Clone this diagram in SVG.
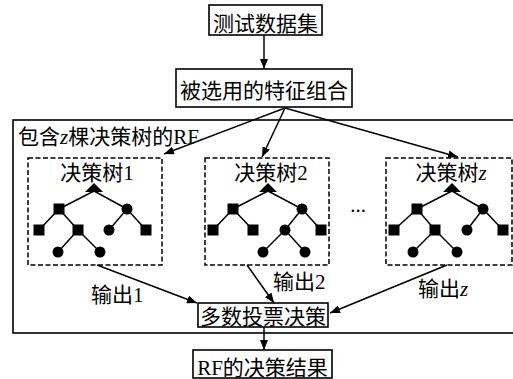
<svg xmlns="http://www.w3.org/2000/svg" width="513" height="379" viewBox="0 0 513 379">
<defs>
<marker id="ah" viewBox="0 0 10 8" refX="10" refY="4" markerWidth="10" markerHeight="8" markerUnits="userSpaceOnUse" orient="auto">
<path d="M0,0 L10,4 L0,8 Z" fill="#000"/>
</marker>
<g id="sq"><rect x="-5.5" y="-5.5" width="11" height="11" fill="#000"/></g>
<g id="ci"><circle r="5.5" fill="#000"/></g>
<g id="tri"><path d="M0,0 L9,9 L-9,9 Z" fill="#000"/></g>
</defs>
<style>
text{font-family:"Liberation Serif","Noto Sans CJK SC",serif;font-size:21px;fill:#000}
.c{text-anchor:middle}
.box{fill:#fff;stroke:#000;stroke-width:1.6}
.dash{fill:none;stroke:#000;stroke-width:1.5;stroke-dasharray:5,2.5}
.ln{stroke:#000;stroke-width:1.5;fill:none}
.e{stroke:#000;stroke-width:1.5}
.i{font-style:italic}
</style>
<rect width="513" height="379" fill="#fff"/>

<g id="rf">
<rect x="13" y="120" width="505" height="213" fill="none" stroke="#000" stroke-width="1.6"/>
<text x="18" y="144">包含<tspan class="i">z</tspan>棵决策树的RF</text>
</g>

<g id="connectors">
<line class="ln" x1="264" y1="35" x2="264" y2="69" marker-end="url(#ah)"/>
<line class="ln" x1="285" y1="108" x2="164" y2="154" marker-end="url(#ah)"/>
<line class="ln" x1="285" y1="108" x2="262" y2="157" marker-end="url(#ah)"/>
<line class="ln" x1="285" y1="108" x2="458" y2="157" marker-end="url(#ah)"/>
<line class="ln" x1="97" y1="265" x2="197" y2="303" marker-end="url(#ah)"/>
<line class="ln" x1="247" y1="265" x2="274" y2="303" marker-end="url(#ah)"/>
<line class="ln" x1="447" y1="265" x2="330" y2="313" marker-end="url(#ah)"/>
<line class="ln" x1="264" y1="327" x2="264" y2="350" marker-end="url(#ah)"/>
</g>

<g id="n-test">
<rect class="box" x="209" y="5" width="113" height="30"/>
<text class="c" x="265.5" y="31">测试数据集</text>
</g>

<g id="n-feat">
<rect class="box" x="176" y="69" width="176" height="38"/>
<text class="c" x="264" y="98">被选用的特征组合</text>
</g>

<g id="tree1">
<rect class="dash" x="28" y="158" width="134" height="107"/>
<text class="c" x="97" y="180">决策树1</text>
<g transform="translate(94,0)">
<line class="e" x1="0" y1="191" x2="-35" y2="209"/>
<line class="e" x1="0" y1="191" x2="33" y2="209"/>
<line class="e" x1="-35" y1="209" x2="-55" y2="230"/>
<line class="e" x1="-35" y1="209" x2="-16" y2="230"/>
<line class="e" x1="33" y1="209" x2="15" y2="230"/>
<line class="e" x1="33" y1="209" x2="52" y2="230"/>
<line class="e" x1="-16" y1="230" x2="-36" y2="252"/>
<line class="e" x1="-16" y1="230" x2="6" y2="252"/>
<use href="#tri" x="0" y="183"/>
<use href="#sq" x="-35" y="209"/>
<use href="#ci" x="33" y="209"/>
<use href="#sq" x="-55" y="230"/>
<use href="#sq" x="-16" y="230"/>
<use href="#ci" x="15" y="230"/>
<use href="#sq" x="52" y="230"/>
<use href="#ci" x="-36" y="252"/>
<use href="#ci" x="6" y="252"/>
</g>
</g>

<g id="tree2">
<rect class="dash" x="205" y="158" width="124" height="107"/>
<text class="c" x="271" y="180">决策树2</text>
<g transform="translate(268,0)">
<line class="e" x1="0" y1="191" x2="-35" y2="209"/>
<line class="e" x1="0" y1="191" x2="34" y2="209"/>
<line class="e" x1="-35" y1="209" x2="-55" y2="230"/>
<line class="e" x1="-35" y1="209" x2="-15" y2="230"/>
<line class="e" x1="34" y1="209" x2="17" y2="230"/>
<line class="e" x1="34" y1="209" x2="53" y2="230"/>
<line class="e" x1="17" y1="230" x2="-5" y2="252"/>
<line class="e" x1="17" y1="230" x2="37" y2="252"/>
<use href="#tri" x="0" y="183"/>
<use href="#sq" x="-35" y="209"/>
<use href="#ci" x="34" y="209"/>
<use href="#sq" x="-55" y="230"/>
<use href="#sq" x="-15" y="230"/>
<use href="#ci" x="17" y="230"/>
<use href="#sq" x="53" y="230"/>
<use href="#ci" x="-5" y="252"/>
<use href="#ci" x="37" y="252"/>
</g>
</g>

<g id="dots">
<text class="c" x="358" y="212">...</text>
</g>

<g id="treez">
<rect class="dash" x="386" y="158" width="126" height="107"/>
<text class="c" x="451" y="180">决策树<tspan class="i">z</tspan></text>
<g transform="translate(452,0)">
<line class="e" x1="0" y1="191" x2="-35" y2="209"/>
<line class="e" x1="0" y1="191" x2="31" y2="209"/>
<line class="e" x1="-35" y1="209" x2="-58" y2="230"/>
<line class="e" x1="-35" y1="209" x2="-17" y2="230"/>
<line class="e" x1="31" y1="209" x2="15" y2="230"/>
<line class="e" x1="31" y1="209" x2="51" y2="230"/>
<line class="e" x1="-17" y1="230" x2="-39" y2="252"/>
<line class="e" x1="-17" y1="230" x2="5" y2="252"/>
<use href="#tri" x="0" y="183"/>
<use href="#sq" x="-35" y="209"/>
<use href="#ci" x="31" y="209"/>
<use href="#sq" x="-58" y="230"/>
<use href="#sq" x="-17" y="230"/>
<use href="#ci" x="15" y="230"/>
<use href="#sq" x="51" y="230"/>
<use href="#ci" x="-39" y="252"/>
<use href="#ci" x="5" y="252"/>
</g>
</g>

<g id="labels">
<text x="91" y="302">输出1</text>
<text x="273" y="289">输出2</text>
<text x="418" y="296">输出<tspan class="i">z</tspan></text>
</g>

<g id="n-vote">
<rect class="box" x="198" y="303" width="130" height="24"/>
<text class="c" x="263" y="324">多数投票决策</text>
</g>

<g id="n-result">
<rect class="box" x="193" y="350" width="139" height="28"/>
<text class="c" x="262.5" y="375">RF的决策结果</text>
</g>
</svg>
